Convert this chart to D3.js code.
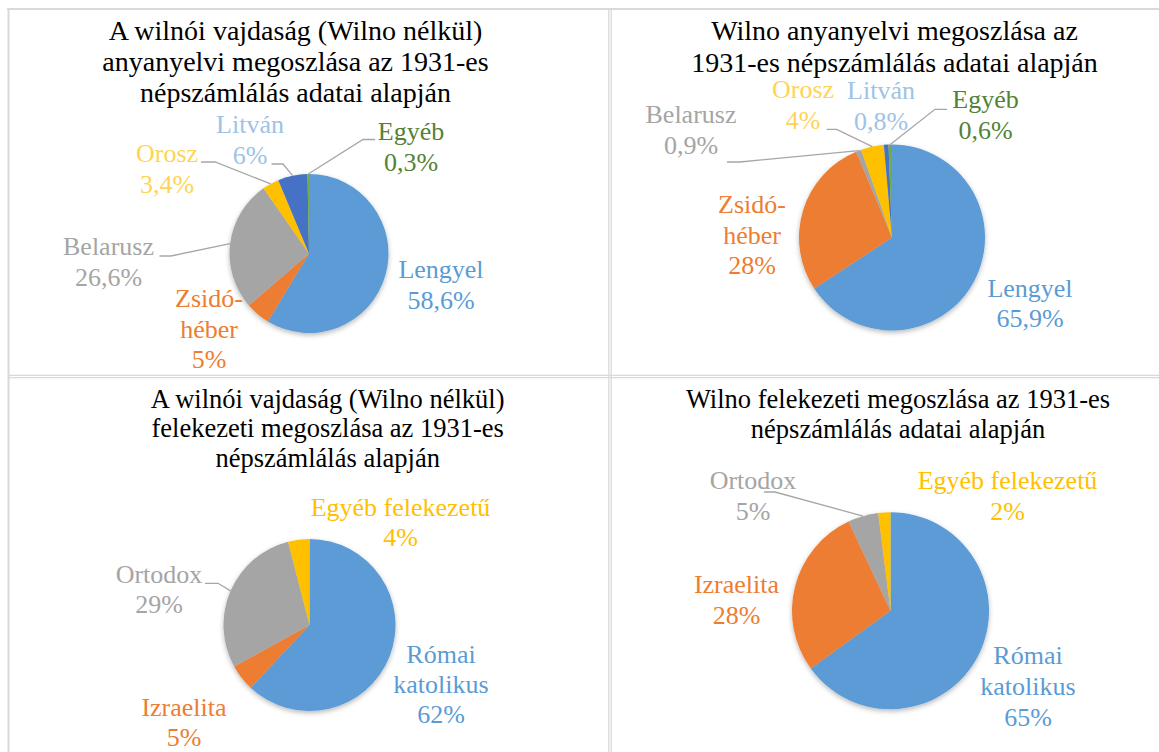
<!DOCTYPE html>
<meta charset="utf-8">
<script src="https://cdn.jsdelivr.net/npm/d3@7"></script>
<style>
  body { margin: 0; background: #fff; }
  svg { display: block; }
  svg text { font-family: "Liberation Serif", "Times New Roman", Times, serif; }
</style>
<div id="chart"></div>
<script>
// categories ("\n" = line break in the label)
var langCats = ["Lengyel", "Zsidó-\nhéber", "Belarusz", "Orosz", "Litván", "Egyéb"];
var relCats  = ["Római\nkatolikus", "Izraelita", "Ortodox", "Egyéb felekezetű"];

// shares in percent
var langVajdasag = [58.6, 5, 26.6, 3.4, 6, 0.3];
var langWilno    = [65.9, 28, 0.9, 4, 0.8, 0.6];
var relVajdasag  = [62, 5, 29, 4];
var relWilno     = [65, 28, 5, 2];

// printed value labels
var langVajdasagText = ["58,6%", "5%", "26,6%", "3,4%", "6%", "0,3%"];
var langWilnoText    = ["65,9%", "28%", "0,9%", "4%", "0,8%", "0,6%"];
var relVajdasagText  = ["62%", "5%", "29%", "4%"];
var relWilnoText     = ["65%", "28%", "5%", "2%"];

var titles = [
  ["A wilnói vajdaság (Wilno nélkül)", "anyanyelvi megoszlása az 1931-es", "népszámlálás adatai alapján"],
  ["Wilno anyanyelvi megoszlása az", "1931-es népszámlálás adatai alapján"],
  ["A wilnói vajdaság (Wilno nélkül)", "felekezeti megoszlása az 1931-es", "népszámlálás alapján"],
  ["Wilno felekezeti megoszlása az 1931-es", "népszámlálás adatai alapján"]
];

// office palette
var sliceColors = ["#5B9BD5", "#ED7D31", "#A5A5A5", "#FFC000", "#4472C4", "#70AD47"];
var langLabelColors = ["#5B9BD5", "#ED7D31", "#A5A5A5", "#FFD454", "#9DC3E6", "#548235"];
var relLabelColors  = ["#5B9BD5", "#ED7D31", "#A5A5A5", "#FFC000"];

var serif = "'Liberation Serif', 'Times New Roman', Times, serif";
var W = 1159, H = 752;

var svg = d3.select("#chart").append("svg")
  .attr("width", W).attr("height", H);

var defs = svg.append("defs");
defs.append("filter").attr("id", "shadow")
  .attr("x", "-20%").attr("y", "-20%").attr("width", "140%").attr("height", "140%")
  .append("feDropShadow")
    .attr("dx", 0).attr("dy", 2).attr("stdDeviation", 2.5)
    .attr("flood-color", "#000").attr("flood-opacity", 0.28);

// table grid
var grid = svg.append("g").attr("stroke", "#d9d9d9").attr("fill", "none");
grid.append("line").attr("x1", 7).attr("x2", W).attr("y1", 9).attr("y2", 9).attr("stroke-width", 2);
grid.append("line").attr("x1", 8.5).attr("x2", 8.5).attr("y1", 8).attr("y2", H).attr("stroke-width", 2);
[608.8, 611.2].forEach(function(x) {
  grid.append("line").attr("x1", x).attr("x2", x).attr("y1", 8).attr("y2", H).attr("stroke-width", 1.3);
});
[375.3, 377.7].forEach(function(y) {
  grid.append("line").attr("x1", 8).attr("x2", W).attr("y1", y).attr("y2", y).attr("stroke-width", 1.3);
});

var charts = [
  { cats: langCats, values: langVajdasag, text: langVajdasagText, labelColors: langLabelColors,
    title: titles[0], titleSize: 28, titleX: 295.5, titleY: 40, titleGap: 31,
    cx: 309, cy: 253.5, r: 79.5, gap: 30.5,
    labels: [[441, 278], [209, 307], [108.5, 255], [167, 162], [250, 133], [411, 140]],
    leaders: { 2: [159.5, 171, 256], 3: [201, 215, 162], 4: [271.5, 283, 164], 5: [375, 363, 139.5] } },
  { cats: langCats, values: langWilno, text: langWilnoText, labelColors: langLabelColors,
    title: titles[1], titleSize: 28, titleX: 894.5, titleY: 40, titleGap: 31.5,
    cx: 892, cy: 237.5, r: 93, gap: 30.5,
    labels: [[1030, 296.7], [752, 213.3], [691, 123.3], [803, 98.3], [881, 99.3], [985.5, 108.3]],
    leaders: { 2: [727, 740, 162], 3: [826.7, 836.7, 129.3], 5: [947, 935, 109.3] } },
  { cats: relCats, values: relVajdasag, text: relVajdasagText, labelColors: relLabelColors,
    title: titles[2], titleSize: 26.5, titleX: 327.7, titleY: 407.7, titleGap: 29.5,
    cx: 309.5, cy: 625, r: 86, gap: 30,
    labels: [[441, 662.7], [184, 716], [159, 583.3], [400.5, 516]],
    leaders: { 2: [205, 218, 583.3] } },
  { cats: relCats, values: relWilno, text: relWilnoText, labelColors: relLabelColors,
    title: titles[3], titleSize: 26.5, titleX: 898, titleY: 407.7, titleGap: 30,
    cx: 890.5, cy: 610.7, r: 98.5, gap: 31,
    labels: [[1028, 664.3], [736.5, 592.7], [753, 489.3], [1007.5, 488.7]],
    leaders: { 2: [764, 775, 492] } }
];

charts.forEach(function(c) {
  var g = svg.append("g");

  // title
  var t = g.append("text")
    .attr("text-anchor", "middle")
    .attr("font-family", serif)
    .attr("font-size", c.titleSize)
    .attr("fill", "#000");
  c.title.forEach(function(line, i) {
    t.append("tspan").attr("x", c.titleX).attr("y", c.titleY + i * c.titleGap).text(line);
  });

  var pie = d3.pie().sort(null).value(function(d) { return d; });
  var arcs = pie(c.values);
  var arc = d3.arc().innerRadius(0).outerRadius(c.r);

  g.append("g")
    .attr("transform", "translate(" + c.cx + "," + c.cy + ")")
    .attr("filter", "url(#shadow)")
    .selectAll("path")
    .data(arcs)
    .enter().append("path")
      .attr("d", arc)
      .attr("fill", function(d, i) { return sliceColors[i]; });

  // leader lines: label end -> short horizontal -> middle of the slice edge
  Object.keys(c.leaders).forEach(function(k) {
    var a = arcs[+k], L = c.leaders[k];
    var mid = (a.startAngle + a.endAngle) / 2;
    var px = c.cx + c.r * Math.sin(mid), py = c.cy - c.r * Math.cos(mid);
    g.append("polyline")
      .attr("points", [[L[0], L[2]], [L[1], L[2]], [px, py]].join(" "))
      .attr("fill", "none")
      .attr("stroke", "#A6A6A6")
      .attr("stroke-width", 1.3);
  });

  // data labels
  c.cats.forEach(function(name, i) {
    var lines = name.split("\n").concat([c.text[i]]);
    var pos = c.labels[i];
    var lt = g.append("text")
      .attr("text-anchor", "middle")
      .attr("font-family", serif)
      .attr("font-size", 26)
      .attr("fill", c.labelColors[i]);
    lines.forEach(function(line, j) {
      lt.append("tspan").attr("x", pos[0]).attr("y", pos[1] + j * c.gap).text(line);
    });
  });
});
</script>
